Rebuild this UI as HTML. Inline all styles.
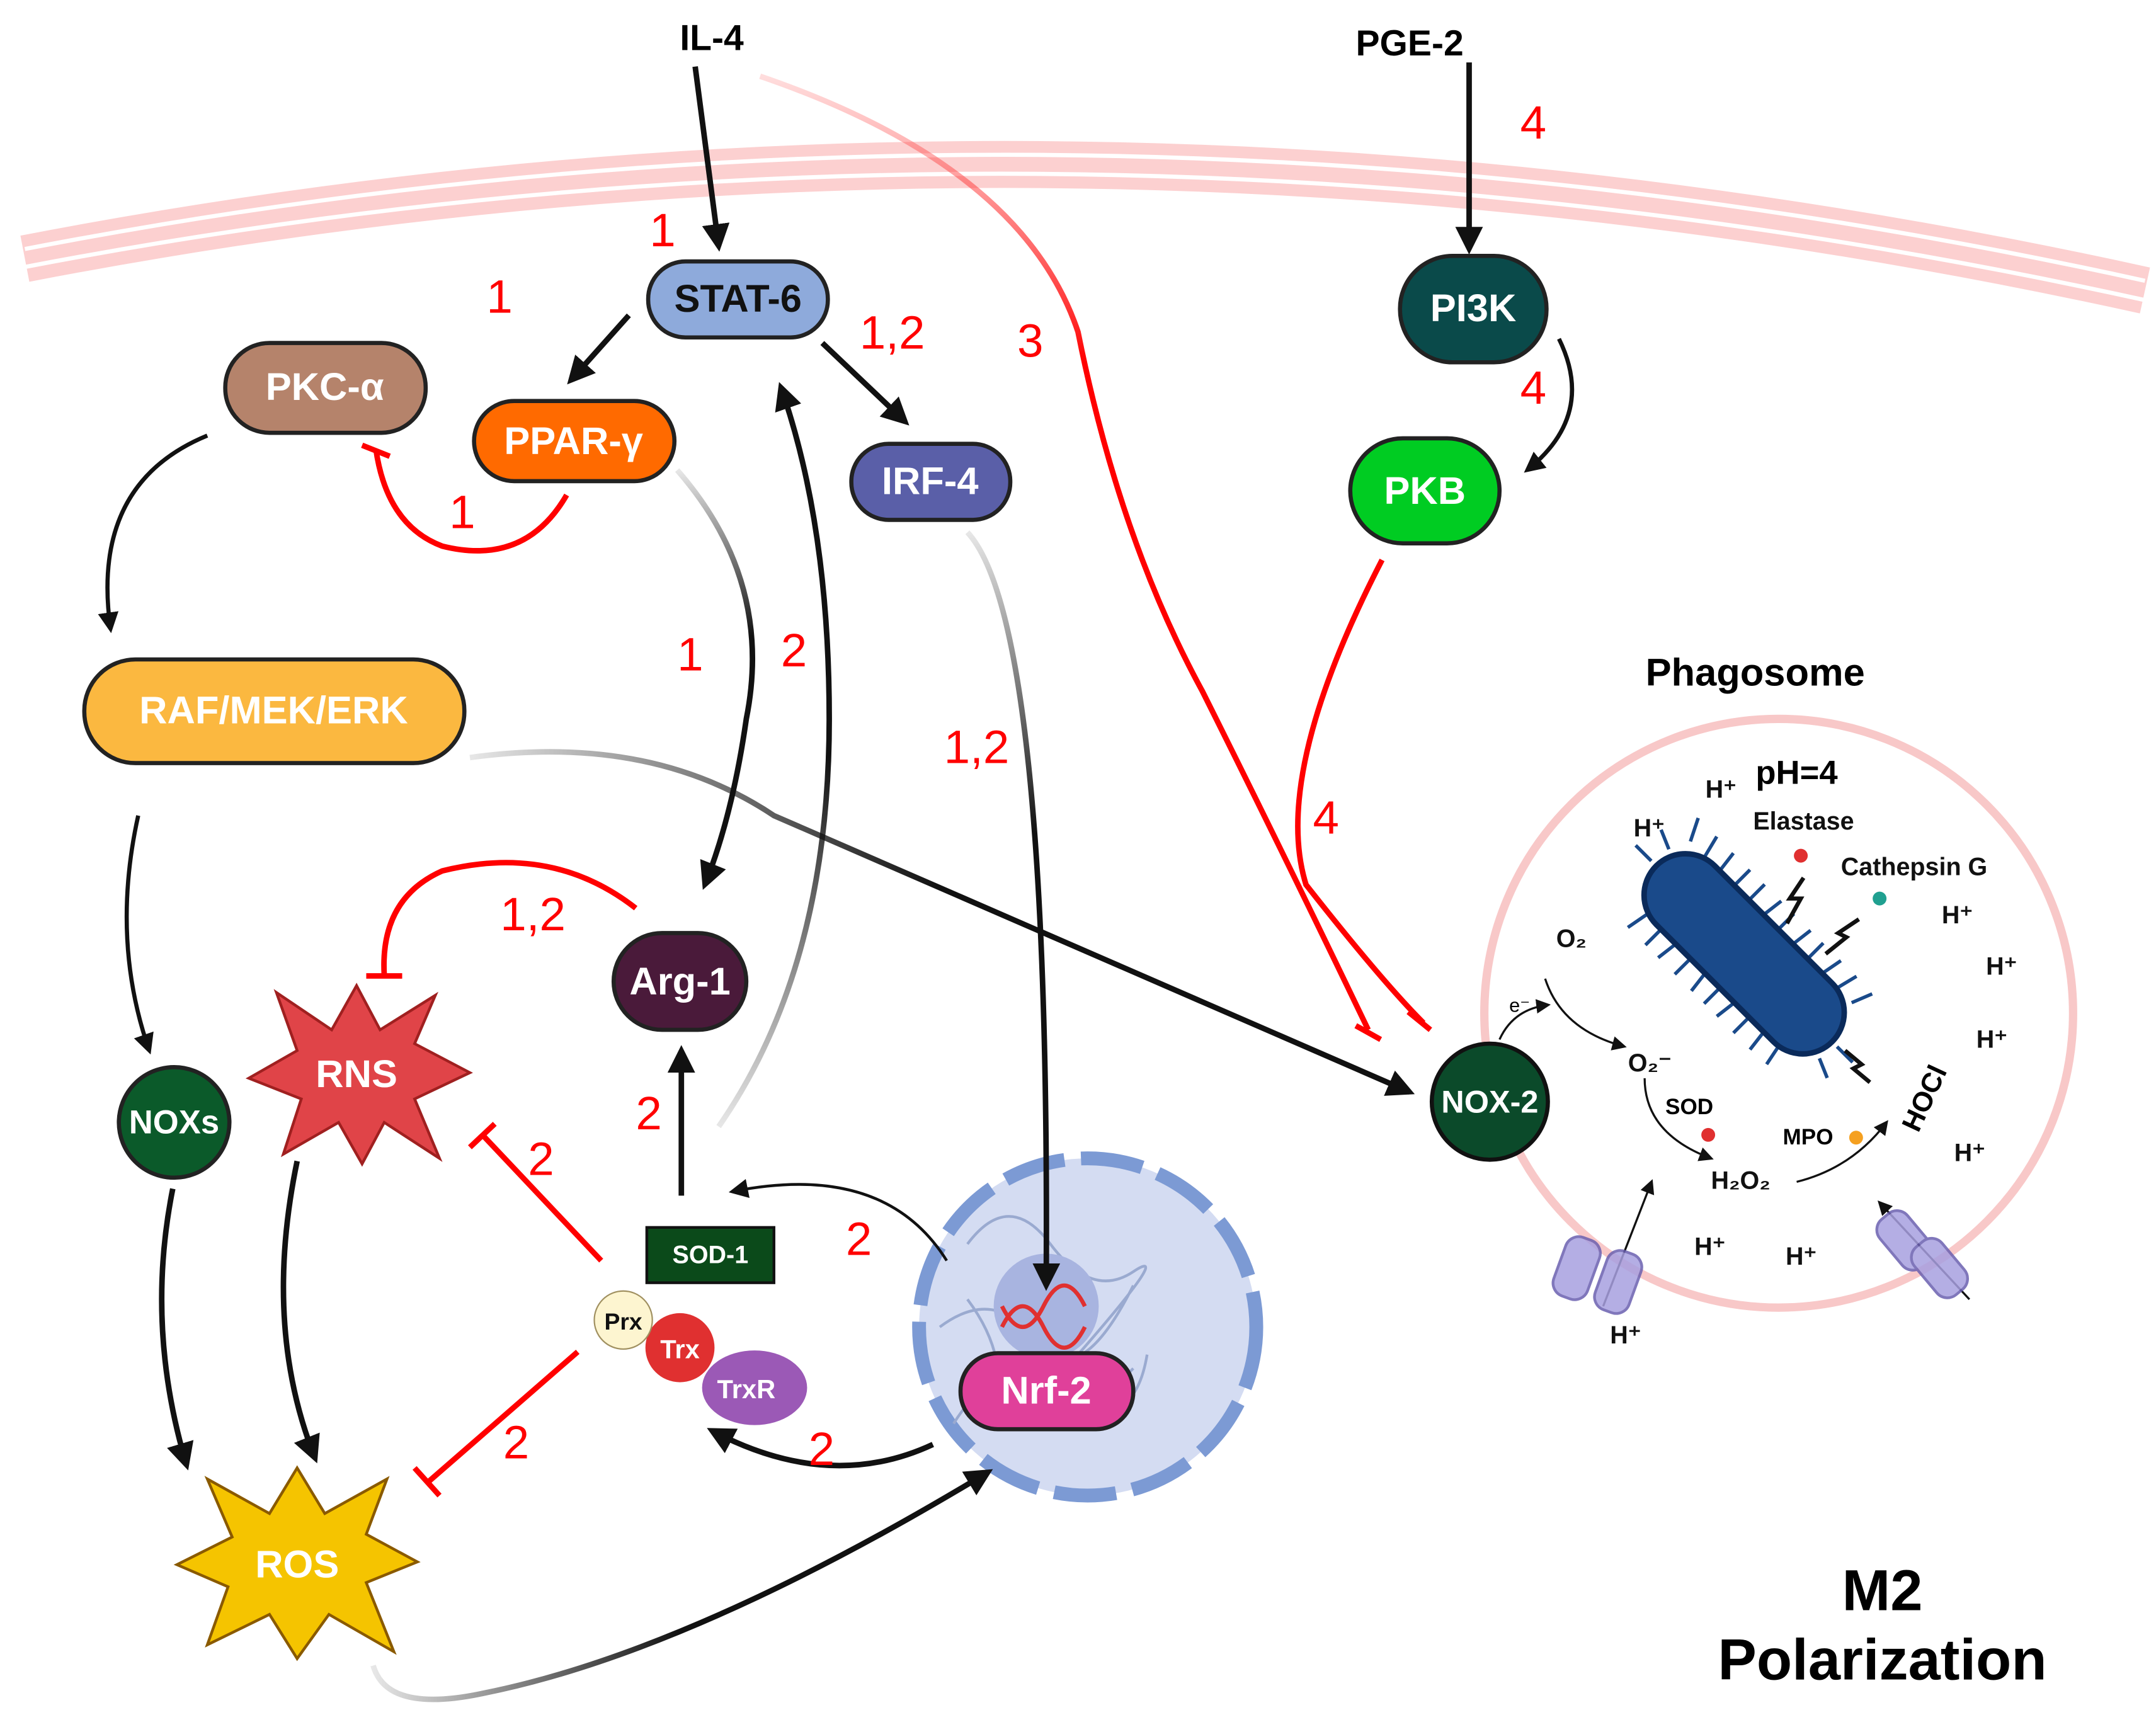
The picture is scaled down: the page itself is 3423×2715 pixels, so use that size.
<!DOCTYPE html>
<html><head><meta charset="utf-8"><style>
html,body{margin:0;padding:0;background:#fff}
svg{display:block}
text{font-family:"Liberation Sans",sans-serif}
.n{fill:#f00;font-size:34px}
.lb{fill:#fff;font-weight:bold;font-size:28px;text-anchor:middle;dominant-baseline:central}
.h{font-weight:bold;font-size:18px;fill:#111}
</style></head><body>
<svg width="3423" height="2715" viewBox="0 0 1560 1237" xmlns="http://www.w3.org/2000/svg">
<defs>
<marker id="ab" viewBox="0 0 10 10" refX="8" refY="5" markerWidth="5" markerHeight="5" orient="auto-start-reverse"><path d="M0,0L10,5L0,10z" fill="#111"/></marker>
<marker id="as" viewBox="0 0 10 10" refX="8" refY="5" markerWidth="7" markerHeight="7" orient="auto"><path d="M0,0L10,5L0,10z" fill="#111"/></marker>
<linearGradient id="gr" x1="0" y1="0" x2="0" y2="1"><stop offset="0" stop-color="#f55" stop-opacity="0.2"/><stop offset="0.3" stop-color="#f00"/></linearGradient>
<linearGradient id="gk" x1="0" y1="0" x2="1" y2="0"><stop offset="0" stop-color="#111" stop-opacity="0.1"/><stop offset="0.5" stop-color="#111"/></linearGradient>
<linearGradient id="gv" x1="0" y1="0" x2="0" y2="1"><stop offset="0" stop-color="#111" stop-opacity="0.1"/><stop offset="0.4" stop-color="#111"/></linearGradient>
<linearGradient id="gu" x1="0" y1="1" x2="0" y2="0"><stop offset="0" stop-color="#111" stop-opacity="0.1"/><stop offset="0.5" stop-color="#111"/></linearGradient>
</defs>
<!-- membrane -->
<path d="M18,187 Q780,40 1552,210" fill="none" stroke="#fcd0d0" stroke-width="34"/>
<path d="M18,180 Q780,33 1552,203" fill="none" stroke="#fff" stroke-width="3"/>
<path d="M18,193 Q780,47 1552,217" fill="none" stroke="#fff" stroke-width="3"/>

<text x="515" y="36" text-anchor="middle" font-weight="bold" font-size="26">IL-4</text>
<text x="1020" y="40" text-anchor="middle" font-weight="bold" font-size="26">PGE-2</text>

<!-- nucleus -->
<circle cx="787" cy="960" r="122" fill="#d4dcf2" stroke="#7c9ad4" stroke-width="10" stroke-dasharray="45 12"/>
<path d="M700,900 q30,-40 60,0 t60,20 t-40,60 t-60,40 t-20,-80 M720,1000 q50,40 100,-10 M680,960 q40,-30 70,10 t70,-40 M690,1030 q30,-50 80,-20 t60,-30" fill="none" stroke="#9aaad0" stroke-width="2"/>
<circle cx="757" cy="945" r="38" fill="#a8b4e0"/>
<path d="M725,960 q15,-30 30,0 t30,0 M725,945 q15,30 30,0 t30,0" fill="none" stroke="#e03030" stroke-width="3"/>

<g fill="none" stroke-width="4">
<path d="M503,48 L520,178" stroke="#111" marker-end="url(#ab)"/>
<path d="M1063,45 L1063,180" stroke="#111" marker-end="url(#ab)"/>
<path d="M550,55 Q740,120 780,240 Q810,390 870,500 Q930,620 990,745" stroke="url(#gr)"/>
<path d="M455,228 L413,275" stroke="#111" marker-end="url(#ab)"/>
<path d="M595,248 L655,305" stroke="#111" marker-end="url(#ab)"/>
<path d="M1128,245 Q1155,300 1105,340" stroke="#111" stroke-width="3" marker-end="url(#ab)"/>
<path d="M410,358 Q380,410 320,395 Q280,380 272,325" stroke="#f00"/>
<path d="M150,315 Q65,350 80,455" stroke="#111" stroke-width="3" marker-end="url(#ab)"/>
<path d="M490,340 Q560,420 540,520 Q530,590 510,640" stroke="url(#gv)" marker-end="url(#ab)"/>
<path d="M520,815 Q600,700 600,520 Q600,380 565,280" stroke="url(#gu)" marker-end="url(#ab)"/>
<path d="M700,385 Q760,450 757,930" stroke="url(#gv)" marker-end="url(#ab)"/>
<path d="M340,548 Q470,530 560,590 L1020,790" stroke="url(#gk)" marker-end="url(#ab)"/>
<path d="M1000,405 Q920,560 945,640 Q1000,710 1030,740" stroke="#f00"/>
<path d="M460,657 Q400,610 320,630 Q275,650 278,705" stroke="#f00"/>
<path d="M100,590 Q80,680 108,760" stroke="#111" stroke-width="3" marker-end="url(#ab)"/>
<path d="M493,865 L493,760" stroke="#111" marker-end="url(#ab)"/>
<path d="M435,912 L350,822" stroke="#f00"/>
<path d="M418,978 L310,1072" stroke="#f00"/>
<path d="M125,860 Q105,960 135,1060" stroke="#111" marker-end="url(#ab)"/>
<path d="M215,840 Q190,960 228,1055" stroke="#111" marker-end="url(#ab)"/>
<path d="M685,912 Q640,840 530,862" stroke="#111" stroke-width="2" marker-end="url(#as)"/>
<path d="M675,1045 Q600,1080 515,1035" stroke="#111" marker-end="url(#ab)"/>
<path d="M270,1205 Q280,1240 350,1225 Q500,1195 715,1065" stroke="url(#gk)" marker-end="url(#ab)"/>
</g>
<g stroke="#f00" stroke-width="4">
<path d="M262,322 L282,330"/><path d="M981,742 L999,752"/><path d="M1019,732 L1035,745"/>
<path d="M265,706 L291,706"/><path d="M340,830 L358,813"/><path d="M300,1062 L318,1082"/>
</g>

<!-- numbers -->
<g class="n">
<text x="470" y="178">1</text><text x="352" y="226">1</text><text x="622" y="252">1,2</text><text x="736" y="258">3</text>
<text x="1100" y="100">4</text><text x="1100" y="292">4</text><text x="325" y="382">1</text><text x="490" y="485">1</text>
<text x="565" y="482">2</text><text x="683" y="552">1,2</text><text x="950" y="603">4</text><text x="362" y="673">1,2</text>
<text x="460" y="817">2</text><text x="382" y="850">2</text><text x="612" y="908">2</text><text x="364" y="1055">2</text><text x="585" y="1060">2</text>
</g>

<!-- nodes -->
<rect x="469" y="189" width="130" height="55" rx="27" fill="#8eaadb" stroke="#222" stroke-width="3"/><text x="534" y="216" class="lb" style="fill:#111">STAT-6</text>
<rect x="343" y="290" width="145" height="58" rx="29" fill="#ff6a00" stroke="#222" stroke-width="3"/><text x="415" y="319" class="lb">PPAR-γ</text>
<rect x="163" y="248" width="145" height="65" rx="32" fill="#b5836b" stroke="#222" stroke-width="3"/><text x="235" y="280" class="lb">PKC-α</text>
<rect x="616" y="321" width="115" height="55" rx="27" fill="#5a5fa8" stroke="#222" stroke-width="3"/><text x="673" y="348" class="lb">IRF-4</text>
<rect x="61" y="477" width="275" height="75" rx="37" fill="#fbb840" stroke="#222" stroke-width="3"/><text x="198" y="514" class="lb">RAF/MEK/ERK</text>
<rect x="444" y="675" width="96" height="70" rx="35" fill="#4a1a3a" stroke="#222" stroke-width="3"/><text x="492" y="710" class="lb">Arg-1</text>
<circle cx="126" cy="812" r="40" fill="#0b5a2a" stroke="#222" stroke-width="3"/><text x="126" y="812" class="lb" style="font-size:24px">NOXs</text>
<polygon points="258,713 275,745 315,720 300,755 340,776 300,795 318,838 278,812 262,842 245,812 205,835 218,795 180,780 215,760 200,718 240,745" fill="#e04448" stroke="#a02020" stroke-width="2"/><text x="258" y="777" class="lb">RNS</text>
<polygon points="215,1062 235,1095 280,1070 265,1110 302,1130 265,1145 285,1195 238,1168 215,1200 195,1168 150,1190 165,1148 128,1132 168,1112 150,1070 195,1095" fill="#f5c400" stroke="#8a5a00" stroke-width="2"/><text x="215" y="1132" class="lb">ROS</text>
<rect x="468" y="888" width="92" height="40" fill="#0b4a1a" stroke="#111" stroke-width="2"/><text x="514" y="908" class="lb" style="font-size:18px">SOD-1</text>
<ellipse cx="546" cy="1004" rx="38" ry="27" fill="#9b59b6"/><text x="540" y="1005" class="lb" style="font-size:19px">TrxR</text>
<circle cx="492" cy="975" r="25" fill="#e03030"/><text x="492" y="976" class="lb" style="font-size:19px">Trx</text>
<circle cx="451" cy="955" r="21" fill="#fdf5d0" stroke="#a09060"/><text x="451" y="956" class="lb" style="fill:#111;font-size:17px">Prx</text>
<rect x="695" y="979" width="125" height="55" rx="27" fill="#e0409a" stroke="#222" stroke-width="3"/><text x="757" y="1006" class="lb">Nrf-2</text>
<rect x="1013" y="185" width="106" height="77" rx="38" fill="#0a4a4a" stroke="#222" stroke-width="3"/><text x="1066" y="223" class="lb">PI3K</text>
<rect x="977" y="317" width="108" height="76" rx="38" fill="#00cc22" stroke="#222" stroke-width="3"/><text x="1031" y="355" class="lb">PKB</text>

<!-- phagosome -->
<text x="1270" y="496" text-anchor="middle" font-weight="bold" font-size="28">Phagosome</text>
<circle cx="1287" cy="733" r="213" fill="#fff" stroke="#f8c8c8" stroke-width="6"/>
<circle cx="1078" cy="797" r="42" fill="#0b4a2a" stroke="#111" stroke-width="3"/><text x="1078" y="797" class="lb" style="font-size:23px">NOX-2</text>
<g transform="translate(1262,690) rotate(45)">
<path d="M-85,-30 l-8,-16 M-70,-30 l-4,-16 M-55,-30 l-2,-16 M-40,-30 l0,-16 M-25,-30 l0,-16 M-10,-30 l2,-16 M5,-30 l0,-16 M20,-30 l2,-16 M35,-30 l0,-16 M50,-30 l3,-16 M65,-30 l4,-16 M80,-30 l6,-15 M-70,30 l-3,16 M-55,30 l0,16 M-40,30 l-2,16 M-25,30 l0,16 M-10,30 l2,16 M5,30 l0,16 M20,30 l-2,16 M35,30 l0,16 M50,30 l2,16 M65,30 l3,15 M-95,0 l-16,0 M95,0 l16,0 M-92,-15 l-14,-6 M92,15 l14,6" stroke="#1a4a8a" stroke-width="2.5"/>
<rect x="-90" y="-30" width="180" height="60" rx="30" fill="#1a4a8a" stroke="#0a2a5a" stroke-width="4"/>
</g>
<text x="1300" y="567" text-anchor="middle" font-weight="bold" font-size="24">pH=4</text>
<text x="1305" y="600" text-anchor="middle" class="h">Elastase</text>
<text x="1385" y="633" text-anchor="middle" class="h">Cathepsin G</text>
<circle cx="1303" cy="619" r="5" fill="#e03030"/><circle cx="1360" cy="650" r="5" fill="#20a090"/>
<path d="M1305,635 l-10,15 l8,0 l-10,18" stroke="#111" stroke-width="3" fill="none"/>
<path d="M1345,665 l-15,10 l6,3 l-15,12" stroke="#111" stroke-width="3" fill="none"/>
<path d="M1335,760 l12,10 l-6,3 l12,10" stroke="#111" stroke-width="3" fill="none"/>
<g class="h"><text x="1234" y="577">H⁺</text><text x="1182" y="605">H⁺</text><text x="1405" y="668">H⁺</text><text x="1437" y="705">H⁺</text><text x="1430" y="758">H⁺</text><text x="1414" y="840">H⁺</text><text x="1226" y="908">H⁺</text><text x="1292" y="915">H⁺</text><text x="1165" y="972">H⁺</text></g>
<text x="1126" y="685" class="h" font-size="20">O₂</text>
<text x="1092" y="732" font-size="14">e⁻</text>
<text x="1178" y="775" class="h" font-size="20">O₂⁻</text>
<text x="1205" y="806" font-size="16" font-weight="bold">SOD</text>
<circle cx="1236" cy="821" r="5" fill="#e03030"/>
<text x="1290" y="828" font-size="16" font-weight="bold">MPO</text>
<circle cx="1343" cy="823" r="5" fill="#f5a020"/>
<text x="1238" y="860" class="h" font-size="20">H₂O₂</text>
<text x="0" y="0" font-weight="bold" font-size="20" transform="translate(1388,820) rotate(-65)">HOCl</text>
<g fill="none" stroke="#111" stroke-width="1.5">
<path d="M1118,708 Q1130,745 1175,757" marker-end="url(#as)"/>
<path d="M1085,752 Q1095,730 1120,727" marker-end="url(#as)"/>
<path d="M1190,780 Q1190,820 1238,838" marker-end="url(#as)"/>
<path d="M1300,855 Q1340,845 1365,812" marker-end="url(#as)"/>
<path d="M1160,945 L1195,855" marker-end="url(#as)"/>
<path d="M1425,940 L1360,870" marker-end="url(#as)"/>
</g>
<g fill="#a8a0e0" stroke="#6a60b0" stroke-width="2" opacity="0.85">
<rect x="1128" y="895" width="26" height="45" rx="10" transform="rotate(20 1141 917)"/><rect x="1158" y="905" width="26" height="45" rx="10" transform="rotate(20 1171 927)"/>
<rect x="1365" y="875" width="26" height="45" rx="10" transform="rotate(-40 1378 897)"/><rect x="1390" y="895" width="26" height="45" rx="10" transform="rotate(-40 1403 917)"/>
</g>

<text x="1362" y="1165" text-anchor="middle" font-weight="bold" font-size="42">M2</text>
<text x="1362" y="1215" text-anchor="middle" font-weight="bold" font-size="42">Polarization</text>
</svg>
</body></html>
